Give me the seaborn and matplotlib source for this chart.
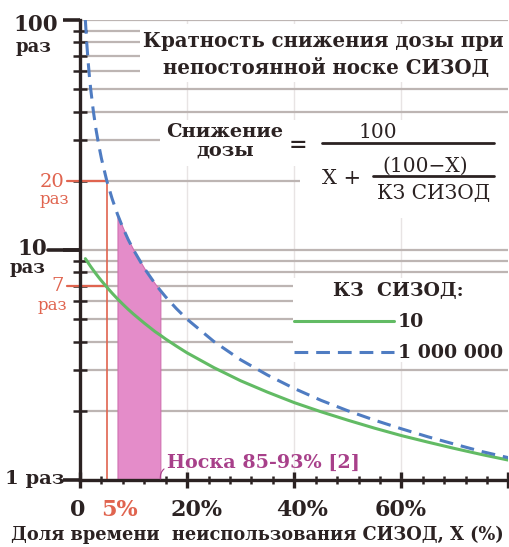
import matplotlib
matplotlib.use("Agg")
import matplotlib.pyplot as plt
from matplotlib.patches import Rectangle
from matplotlib.lines import Line2D
import numpy as np
import pandas as pd
import seaborn as sns

# ---- data -------------------------------------------------------------
x_pct = [1, 1.25, 1.5, 1.75, 2, 2.5, 3, 3.5, 4, 5, 6, 7, 8, 9, 10, 12, 14, 15,
         16, 18, 20, 25, 30, 35, 40, 45, 50, 55, 60, 65, 70, 75, 80]
# dose reduction for a respirator with protection factor 10
y_kz10 = [9.17, 8.99, 8.81, 8.64, 8.47, 8.16, 7.87, 7.60, 7.35, 6.90, 6.49, 6.13,
          5.81, 5.52, 5.26, 4.81, 4.42, 4.26, 4.10, 3.82, 3.57, 3.08, 2.70, 2.41,
          2.17, 1.98, 1.82, 1.68, 1.56, 1.46, 1.37, 1.29, 1.22]
# dose reduction for a respirator with protection factor 1 000 000
y_kz1m = [100, 80, 66.7, 57.1, 50, 40, 33.3, 28.6, 25, 20, 16.7, 14.3, 12.5, 11.1,
          10, 8.33, 7.14, 6.67, 6.25, 5.56, 5, 4, 3.33, 2.86, 2.5, 2.22, 2, 1.82,
          1.67, 1.54, 1.43, 1.33, 1.25]
kz_labels = ["10", "1 000 000"]

wear_band = (7, 15)          # worn 85-93 % of the time
mark_x = 5                   # 5 % of time without respirator
mark_levels = [20, 7]        # reduction at 5 % for each curve

ytick_major = [1, 10, 100]
xtick_major = [0, 20, 40, 60, 80]
xtick_labels = ["0", "20%", "40%", "60%", ""]

# ---- style ------------------------------------------------------------
sns.set_style("white")
plt.rcParams["font.family"] = ["DejaVu Serif"]

INK = "#2b2222"
RED = "#e0644f"
GREEN = "#62bb64"
BLUE = "#4f7cc2"
PINK = "#e48cc9"
GRID = "#bdb5b3"

W, H = 510, 547
fig = plt.figure(figsize=(W / 100, H / 100), dpi=100)
ax = fig.add_axes([80 / W, 1 - 480 / H, 428.5 / W, 460 / H])


def ax_x(px):
    return (px - 80) / 428.5


def ax_y(py):
    return (480 - py) / 460


df = pd.DataFrame({
    "X": x_pct * 2,
    "dose": y_kz10 + y_kz1m,
    "КЗ": [kz_labels[0]] * len(x_pct) + [kz_labels[1]] * len(x_pct),
})

sns.lineplot(data=df, x="X", y="dose", hue="КЗ", style="КЗ",
             hue_order=kz_labels, style_order=kz_labels,
             palette={kz_labels[0]: GREEN, kz_labels[1]: BLUE},
             dashes={kz_labels[0]: "", kz_labels[1]: (4.5, 2.6)},
             linewidth=2.2, ax=ax, zorder=3)

ax.set_yscale("log")
ax.set_xlim(0, 80)
ax.set_ylim(1, 100)

# horizontal grid at every minor step, faint vertical grid at major x
ax.set_axisbelow(True)
ax.yaxis.grid(True, which="both", color=GRID, lw=1.6)
for v in xtick_major[1:4]:
    ax.axvline(v, color="#e8e4e4", lw=1.0, zorder=0.4)

# white panels behind the text blocks
panels = [(140, 24, 510, 82), (160, 120, 300, 166), (300, 120, 510, 218),
          (293, 278, 510, 362)]
for x0, y0, x1, y1 in panels:
    ax.add_patch(Rectangle((ax_x(x0), ax_y(y1)), ax_x(x1) - ax_x(x0),
                           ax_y(y0) - ax_y(y1), transform=ax.transAxes,
                           facecolor="white", edgecolor="none", zorder=1))

# wear band shading under the high-protection curve
xs = np.array(x_pct)
band = (xs >= wear_band[0]) & (xs <= wear_band[1])
ax.fill_between(xs[band], 1, np.array(y_kz1m)[band], color=PINK,
                edgecolor="#d070b0", lw=0.8, zorder=2)
ax.annotate("Носка 85-93% [2]", xy=(wear_band[1], 1.01),
            xytext=(wear_band[1] + 1.3, 1.09), color="#a8408a",
            fontsize=13.8, fontweight="bold", va="bottom", ha="left",
            arrowprops=dict(arrowstyle="-", color="#a8408a", lw=0.8,
                            shrinkA=0, shrinkB=0, relpos=(0, 0.25),
                            connectionstyle="arc3,rad=0.35"), zorder=4)

# red reference lines at 5 %
ax.plot([mark_x, mark_x], [1, mark_levels[0]], color=RED, lw=1.2, zorder=2.5)
for lv in mark_levels:
    ax.plot([-2.5, mark_x], [lv, lv], color=RED, lw=1.6, zorder=2.5,
            clip_on=False)
# longer leader for the 10x mark
ax.plot([-6, 0], [10, 10], color=INK, lw=2.6, zorder=2.5, clip_on=False)

# axes styling
for s in ["top", "right"]:
    ax.spines[s].set_visible(False)
for s in ["left", "bottom"]:
    ax.spines[s].set_color(INK)
    ax.spines[s].set_linewidth(2.4)

ax.set_yticks(ytick_major)
ax.set_yticklabels([])
ax.set_yticks([v * m for m in (1, 10) for v in range(2, 10)], minor=True)
ax.yaxis.set_minor_formatter(plt.NullFormatter())
ax.tick_params(axis="y", which="major", direction="out", length=12,
               width=2.6, color=INK, left=True)
ax.tick_params(axis="y", which="minor", direction="inout", length=10,
               width=1.8, color=INK, left=True)

ax.set_xticks(xtick_major)
ax.set_xticklabels([])
ax.set_xticks(np.arange(0, 81, 4), minor=True)
ax.tick_params(axis="x", which="major", direction="inout", length=12,
               width=2.4, color=INK, bottom=True)
ax.tick_params(axis="x", which="minor", direction="inout", length=6,
               width=1.8, color=INK, bottom=True)
ax.set_xlabel("")
ax.set_ylabel("")

# legend
leg = ax.legend(title="КЗ  СИЗОД:", loc="upper left",
                bbox_to_anchor=(ax_x(294), ax_y(282)), frameon=False,
                handlelength=5.3, handletextpad=0.2, labelspacing=0.7,
                borderpad=0, borderaxespad=0,
                prop={"size": 13.6, "weight": "bold"},
                title_fontproperties={"size": 13.6, "weight": "bold"})
leg.set_zorder(5)
leg.get_title().set_color(INK)
for t in leg.get_texts():
    t.set_color(INK)


def fx(px):
    return px / W


def fy(py):
    return 1 - py / H


# y-axis labels
fig.text(fx(36), fy(25), "100", ha="center", va="center", fontsize=15.5,
         fontweight="bold", color=INK)
fig.text(fx(34), fy(47), "раз", ha="center", va="center", fontsize=13,
         fontweight="bold", color=INK)
fig.text(fx(52), fy(182), "20", ha="center", va="center", fontsize=14,
         color=RED)
fig.text(fx(54), fy(199), "раз", ha="center", va="center", fontsize=12,
         color=RED)
fig.text(fx(32), fy(249), "10", ha="center", va="center", fontsize=15.5,
         fontweight="bold", color=INK)
fig.text(fx(28), fy(268), "раз", ha="center", va="center", fontsize=13,
         fontweight="bold", color=INK)
fig.text(fx(58), fy(286), "7", ha="center", va="center", fontsize=14,
         color=RED)
fig.text(fx(52), fy(305), "раз", ha="center", va="center", fontsize=12,
         color=RED)
fig.text(fx(64), fy(479), "1 раз", ha="right", va="center", fontsize=14,
         fontweight="bold", color=INK)

# x-axis labels
xlab_px = {0: 78, 20: 197, 40: 302, 60: 401}
for v, lab in zip(xtick_major, xtick_labels):
    if lab:
        fig.text(fx(xlab_px[v]), fy(510), lab, ha="center", va="center",
                 fontsize=16, fontweight="bold", color=INK)
fig.text(fx(119), fy(510), f"{mark_x}%", ha="center", va="center",
         fontsize=16, fontweight="bold", color=RED)
fig.text(fx(257), fy(535), "Доля времени  неиспользования СИЗОД, X (%)",
         ha="center", va="center", fontsize=12.8, fontweight="bold",
         color=INK)

# title
fig.text(fx(323), fy(41), "Кратность снижения дозы при", ha="center",
         va="center", fontsize=14.2, fontweight="bold", color=INK)
fig.text(fx(326), fy(68), "непостоянной носке СИЗОД", ha="center",
         va="center", fontsize=14.2, fontweight="bold", color=INK)

# formula
fig.text(fx(225), fy(132), "Снижение", ha="center", va="center",
         fontsize=14, fontweight="bold", color=INK)
fig.text(fx(225), fy(151), "дозы", ha="center", va="center",
         fontsize=14, fontweight="bold", color=INK)
fig.text(fx(298), fy(145), "=", ha="center", va="center", fontsize=16,
         fontweight="bold", color=INK)
fig.text(fx(378), fy(133), "100", ha="center", va="center", fontsize=14.5,
         color=INK)
fig.add_artist(Line2D([fx(322), fx(494)], [fy(143), fy(143)], color=INK,
                      lw=2.0))
fig.text(fx(342), fy(179), "X +", ha="center", va="center", fontsize=15,
         color=INK)
fig.text(fx(425), fy(166), "(100−X)", ha="center", va="center", fontsize=14.5,
         color=INK)
fig.add_artist(Line2D([fx(373), fx(494)], [fy(176), fy(176)], color=INK,
                      lw=2.0))
fig.text(fx(434), fy(194), "КЗ СИЗОД", ha="center", va="center", fontsize=14.5,
         color=INK)

fig.savefig("out.png", dpi=100, facecolor="white")
